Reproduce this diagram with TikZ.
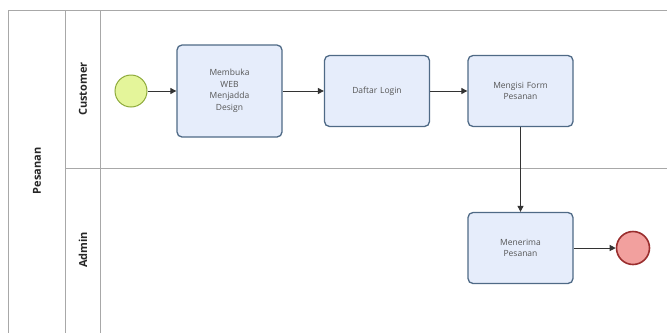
\documentclass[tikz,border=0pt]{standalone}
\usepackage{fontspec}
\setmainfont{Open Sans}
\usetikzlibrary{arrows.meta}
\definecolor{laneline}{HTML}{A8A8A8}
\definecolor{taskfill}{HTML}{E6EDFB}
\definecolor{taskdraw}{HTML}{4F6A86}
\definecolor{startfill}{HTML}{E4F59A}
\definecolor{startdraw}{HTML}{8DAA3A}
\definecolor{endfill}{HTML}{F2A09E}
\definecolor{enddraw}{HTML}{9A2E2E}
\definecolor{labeltext}{HTML}{555555}
\tikzset{
  task/.style={draw=taskdraw, line width=1.3pt, fill=taskfill, rounded corners=5pt,
    minimum width=105pt, minimum height=71pt, align=center, text width=84pt,
    font=\fontsize{8.5}{11.5}\selectfont, text=labeltext},
  startev/.style={circle, draw=startdraw, line width=1pt, fill=startfill, minimum size=32pt, inner sep=0pt},
  endev/.style={circle, draw=enddraw, line width=1.6pt, fill=endfill, minimum size=33pt, inner sep=0pt},
  flow/.style={draw=black!80, line width=0.9pt, -{Triangle[length=6pt,width=6pt]}},
  lane/.style={draw=laneline, line width=0.9pt},
  lanelabel/.style={rotate=90, font=\bfseries\fontsize{11}{13}\selectfont, text=black!85}
}
\begin{document}
\begin{tikzpicture}[x=1pt, y=-1pt]
\useasboundingbox (0,0) rectangle (667,333);
% pool and lanes
\draw[lane] (667,10) -- (8,10) -- (8,333);
\draw[lane] (65,10) -- (65,333);
\draw[lane] (100,10) -- (100,333);
\draw[lane] (65,168) -- (667,168);
\node[lanelabel] (pool) at (37,171) {Pesanan};
\node[lanelabel] (laneC) at (83,89) {Customer};
\node[lanelabel] (laneA) at (83,250) {Admin};
% events and tasks
\node[startev] (start) at (131,91) {};
\node[task, minimum height=92pt] (t1) at (229.5,91) {Membuka\\WEB\\Menjadda\\Design};
\node[task] (t2) at (377,91) {Daftar Login};
\node[task] (t3) at (520.5,91) {Mengisi Form\\Pesanan};
\node[task] (t4) at (520.5,248) {Menerima\\Pesanan};
\node[endev] (end) at (633,248) {};
% sequence flows
\draw[flow] (start) -- (t1);
\draw[flow] (t1) -- (t2);
\draw[flow] (t2) -- (t3);
\draw[flow] (t3) -- (t4);
\draw[flow] (t4) -- (end);
\end{tikzpicture}
\end{document}
